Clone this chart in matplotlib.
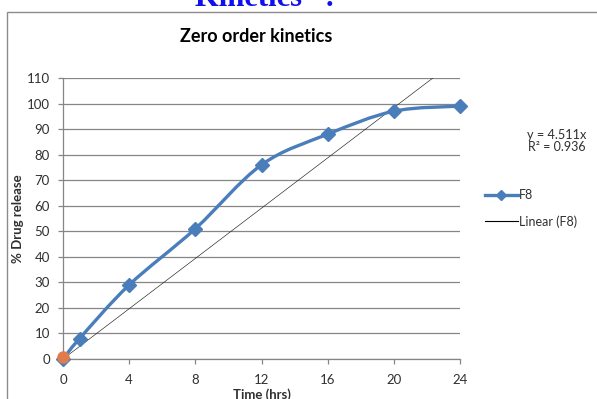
import numpy as np
import matplotlib.pyplot as plt
from matplotlib.path import Path
from matplotlib.patches import PathPatch, Rectangle
from matplotlib.lines import Line2D

plt.rcParams["font.family"] = ["Lato", "DejaVu Sans"]

# F8 release profile
time_hrs = [0, 1, 4, 8, 12, 16, 20, 24]
release_f8 = [0, 8, 29, 51, 76, 88, 97, 99]
# extra point sitting on the origin
origin_pt = ([0], [0.7])
x_ticks = [0, 4, 8, 12, 16, 20, 24]
y_ticks = list(range(0, 111, 10))
eq_text = "y = 4.511x"
r2_text = "R² = 0.936"

blue = "#4A7EBB"
grid_c = "#868686"
txt_c = "#303030"

fig = plt.figure(figsize=(5.97, 3.99), dpi=100)
ax = fig.add_axes([63/597, 1-359/399, (460-63)/597, (359-78)/399])

# outer chart frame
fig.patches.append(Rectangle((6.5/597, -0.05), 1.2, 1-11.5/399+0.05, transform=fig.transFigure,
                             fill=False, ec="#8c8c8c", lw=1.0))

# smoothed curve (catmull-rom -> cubic bezier)
pts = np.column_stack([time_hrs, release_f8]).astype(float)
verts = [pts[0]]
codes = [Path.MOVETO]
n = len(pts)
for i in range(n - 1):
    p0 = pts[max(i - 1, 0)]
    p1 = pts[i]
    p2 = pts[i + 1]
    p3 = pts[min(i + 2, n - 1)]
    c1 = p1 + (p2 - p0) / 6.0
    c2 = p2 - (p3 - p1) / 6.0
    verts += [c1, c2, p2]
    codes += [Path.CURVE4] * 3
ax.add_patch(PathPatch(Path(verts, codes), fill=False, ec=blue, lw=2.4,
                       capstyle="round", joinstyle="round", zorder=3))
ax.plot(time_hrs, release_f8, "D", color=blue, ms=7, zorder=4, clip_on=False)

# linear trendline through the origin
t = np.array(time_hrs, float)
r = np.array(release_f8, float)
slope = (t * r).sum() / (t * t).sum()
ax.plot([0, 24], [0, slope * 24], color="#202020", lw=0.45, zorder=2)

ax.plot(*origin_pt, "o", color="#E07C4C", ms=8, zorder=5, clip_on=False)

ax.set_xlim(0, 24)
ax.set_ylim(0, 110)
ax.set_xticks(x_ticks)
ax.set_yticks(y_ticks)
ax.yaxis.grid(True, color=grid_c, lw=0.9)
ax.set_axisbelow(True)
for s in ("top", "right"):
    ax.spines[s].set_visible(False)
for s in ("left", "bottom"):
    ax.spines[s].set_color(grid_c)
    ax.spines[s].set_linewidth(0.9)
ax.tick_params(colors=grid_c, labelcolor=txt_c, labelsize=9.5, length=3.5, width=0.9)
ax.tick_params(axis="x", pad=7)
ax.tick_params(axis="y", pad=6)

ax.set_ylabel("% Drug release", fontsize=9.5, fontweight="bold", color=txt_c)
ax.yaxis.set_label_coords((24 - 63) / 397, 0.5)
ax.set_xlabel("Time (hrs)", fontsize=9.5, fontweight="bold", color=txt_c, labelpad=2)

fig.text(256/597, 1-37/399, "Zero order kinetics", ha="center", va="center",
         fontsize=13, fontweight="bold", color="black")
fig.text(265/597, 1-6/399, "Kinetics   :", ha="center", va="baseline",
         fontsize=22, fontweight="bold", color="#1010EE", family="Liberation Serif")

fig.text(557/597, 1-135/399, eq_text, ha="center", va="center", fontsize=9.2, color=txt_c)
fig.text(557/597, 1-147/399, r2_text, ha="center", va="center", fontsize=9, color=txt_c)

handles = [Line2D([], [], color=blue, lw=2.4, marker="D", ms=5),
           Line2D([], [], color="black", lw=0.8)]
fig.legend(handles, ["F8", "Linear (F8)"], loc="center left",
           bbox_to_anchor=(485/597, 1-208.5/399), bbox_transform=fig.transFigure,
           frameon=False, fontsize=9, labelcolor=txt_c, borderpad=0, borderaxespad=0,
           handlelength=2.6, handletextpad=0.15, labelspacing=1.1)

fig.savefig("out.png", dpi=100)
